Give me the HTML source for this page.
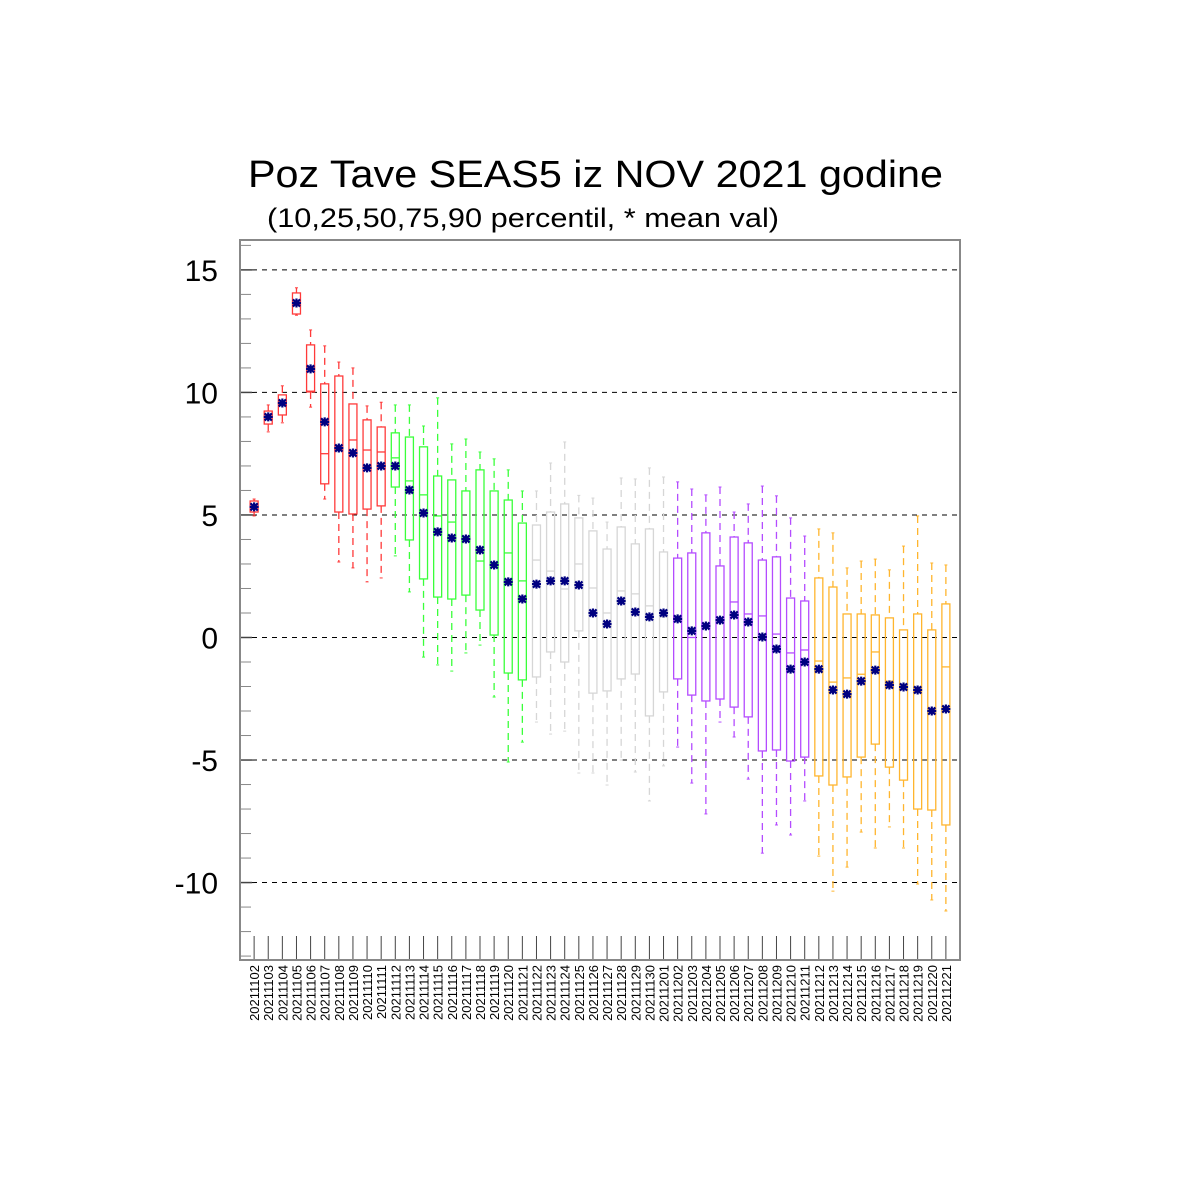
<!DOCTYPE html>
<html><head><meta charset="utf-8"><style>
html,body{margin:0;padding:0;background:#fff;}
svg{display:block;font-family:"Liberation Sans",sans-serif;}
</style></head><body>
<svg id="chart" width="1200" height="1200" viewBox="0 0 1200 1200" xmlns="http://www.w3.org/2000/svg">
<text x="248" y="187" font-size="38" textLength="695" lengthAdjust="spacingAndGlyphs">Poz Tave SEAS5 iz NOV 2021 godine</text>
<text x="267" y="227" font-size="27" textLength="512" lengthAdjust="spacingAndGlyphs">(10,25,50,75,90 percentil, * mean val)</text>
<g id="grid"></g><g id="marks"></g><g id="axes"></g>
<rect x="240" y="240" width="720" height="720" fill="none" stroke="#888" stroke-width="2"/>
</svg>
<script>
const dates=["20211102","20211103","20211104","20211105","20211106","20211107","20211108","20211109","20211110","20211111","20211112","20211113","20211114","20211115","20211116","20211117","20211118","20211119","20211120","20211121","20211122","20211123","20211124","20211125","20211126","20211127","20211128","20211129","20211130","20211201","20211202","20211203","20211204","20211205","20211206","20211207","20211208","20211209","20211210","20211211","20211212","20211213","20211214","20211215","20211216","20211217","20211218","20211219","20211220","20211221"];
const p10=[4.96,8.39,8.76,13.15,9.4,5.65,3.08,2.84,2.27,2.43,3.33,1.86,-0.8,-1.12,-1.37,-0.63,-0.31,-2.43,-5.08,-4.27,-3.45,-3.94,-3.82,-5.53,-5.53,-6.02,-5.0,-5.49,-6.67,-5.24,-4.47,-5.94,-7.2,-3.45,-4.06,-5.78,-8.8,-7.65,-8.06,-6.67,-8.92,-10.35,-9.37,-7.94,-8.59,-7.73,-8.59,-10.06,-10.71,-11.16];
const p25=[5.12,8.71,9.08,13.2,10.02,6.27,5.12,5.04,5.24,5.37,6.14,3.98,2.39,1.65,1.57,1.73,1.12,0.1,-1.45,-1.73,-1.61,-0.59,-1.0,0.27,-2.27,-2.18,-1.69,-1.49,-3.2,-2.22,-1.69,-2.35,-2.59,-2.51,-2.84,-3.24,-4.63,-4.59,-5.04,-4.88,-5.65,-6.02,-5.69,-4.88,-4.35,-5.29,-5.82,-7.0,-7.04,-7.65];
const p50=[5.3,9.0,9.5,13.6,10.05,7.5,7.7,8.06,7.65,7.57,7.33,6.39,5.82,4.96,4.71,4.0,3.12,3.0,3.45,2.31,3.16,2.71,1.98,3.0,2.02,1.0,1.9,1.78,1.29,0.84,0.8,0.0,0.5,0.7,1.45,0.96,0.88,0.14,-0.63,-0.51,-0.96,-1.82,-1.65,-1.5,-0.59,-1.78,-2.0,-2.2,-3.0,-1.2];
const p75=[5.57,9.24,9.9,14.06,11.94,10.35,10.67,9.53,8.88,8.59,8.35,8.18,7.78,6.59,6.43,5.98,6.84,5.98,5.61,4.67,4.59,5.12,5.45,4.88,4.35,3.61,4.51,3.82,4.43,3.49,3.24,3.45,4.27,2.92,4.1,3.86,3.16,3.29,1.61,1.49,2.43,2.06,0.96,0.96,0.92,0.8,0.31,0.96,0.31,1.37];
const p90=[5.65,9.49,10.27,14.27,12.55,11.9,11.24,11.0,9.45,9.6,9.49,9.49,8.63,9.78,7.9,8.1,7.57,7.29,6.84,5.98,5.98,7.12,7.98,5.8,5.69,4.71,6.51,6.47,6.92,6.55,6.35,6.06,5.82,6.14,5.12,5.45,6.18,5.78,4.88,4.14,4.43,4.27,2.84,3.12,3.2,2.76,3.73,4.96,3.04,2.96];
const means=[5.33,9.0,9.57,13.65,10.96,8.8,7.73,7.53,6.92,7.0,7.0,6.02,5.08,4.31,4.06,4.02,3.57,2.96,2.27,1.57,2.18,2.31,2.31,2.14,1.0,0.55,1.49,1.04,0.84,1.0,0.76,0.27,0.47,0.71,0.92,0.63,0.02,-0.47,-1.29,-1.0,-1.29,-2.14,-2.31,-1.78,-1.33,-1.94,-2.02,-2.14,-3.0,-2.92];
const yTicks=[15,10,5,0,-5,-10];
const yTickLabels=["15","10","5","0","-5","-10"];
const groupColors=["#ff3a3a","#3aff3a","#d6d6d6","#b44cff","#ffb52e"];

const NS="http://www.w3.org/2000/svg";
const L=240,R=960,T=240,B=960;
const yMin=-13.16,yMax=16.22;
function yS(v){return B-(v-yMin)/(yMax-yMin)*(B-T);}
const step=(R-L)/(dates.length+1);
function xS(i){return L+(i+1)*step;}
function mk(tag,attrs,parent){const e=document.createElementNS(NS,tag);for(const k in attrs)e.setAttribute(k,attrs[k]);parent.appendChild(e);return e;}
const grid=document.getElementById('grid'),marks=document.getElementById('marks'),axes=document.getElementById('axes');

for(let v=-13;v<=16;v++){
  const t=mk('line',{x1:L,x2:L+11,y1:yS(v),y2:yS(v),stroke:'#888','stroke-width':1},axes);
  
  
}
yTicks.forEach((v,k)=>{
  const g=mk('line',{x1:L+12,x2:R,y1:yS(v),y2:yS(v),stroke:'#000','stroke-width':1,'stroke-dasharray':'5,5'},grid);
  
  
  const t=mk('line',{x1:L,x2:L+12,y1:yS(v),y2:yS(v),stroke:'#444','stroke-width':1.5},axes);
  
  
  const lb=mk('text',{x:218,y:yS(v)+11,'font-size':30,'text-anchor':'end',fill:'#000'},axes);
  lb.textContent=yTickLabels[k];
  
  
});
dates.forEach((d,i)=>{
  const x=xS(i);
  const t=mk('line',{x1:x,x2:x,y1:B-24,y2:B,stroke:'#444','stroke-width':1},axes);
  
  
  const lb=mk('text',{x:0,y:0,'font-size':13,'text-anchor':'end',transform:`translate(${x+5},${B+5}) rotate(-90)`},axes);
  lb.textContent=d;
  
  

  const c=groupColors[Math.floor(i/10)];
  const bw=8;
  const g=mk('g',{},marks);
  
  
  mk('line',{x1:x,x2:x,y1:yS(p90[i]),y2:yS(p75[i]),stroke:c,'stroke-width':1.3,'stroke-dasharray':'7,5'},g);
  mk('line',{x1:x,x2:x,y1:yS(p25[i]),y2:yS(p10[i]),stroke:c,'stroke-width':1.3,'stroke-dasharray':'7,5'},g);
  mk('line',{x1:x-1.5,x2:x+1.5,y1:yS(p90[i]),y2:yS(p90[i]),stroke:c,'stroke-width':1},g);
  mk('line',{x1:x-1.5,x2:x+1.5,y1:yS(p10[i]),y2:yS(p10[i]),stroke:c,'stroke-width':1},g);
  mk('rect',{x:x-bw/2,y:yS(p75[i]),width:bw,height:yS(p25[i])-yS(p75[i]),fill:'none',stroke:c,'stroke-width':1.3},g);
  mk('line',{x1:x-bw/2,x2:x+bw/2,y1:yS(p50[i]),y2:yS(p50[i]),stroke:c,'stroke-width':1.3},g);
  const my=yS(means[i]),s=4.5;
  const m=mk('path',{d:`M${x-s},${my}H${x+s}M${x},${my-s}V${my+s}M${x-s*0.8},${my-s*0.8}L${x+s*0.8},${my+s*0.8}M${x-s*0.8},${my+s*0.8}L${x+s*0.8},${my-s*0.8}`,stroke:'#000080','stroke-width':2.2,fill:'none'},marks);
  
  
});
</script>
</body></html>
